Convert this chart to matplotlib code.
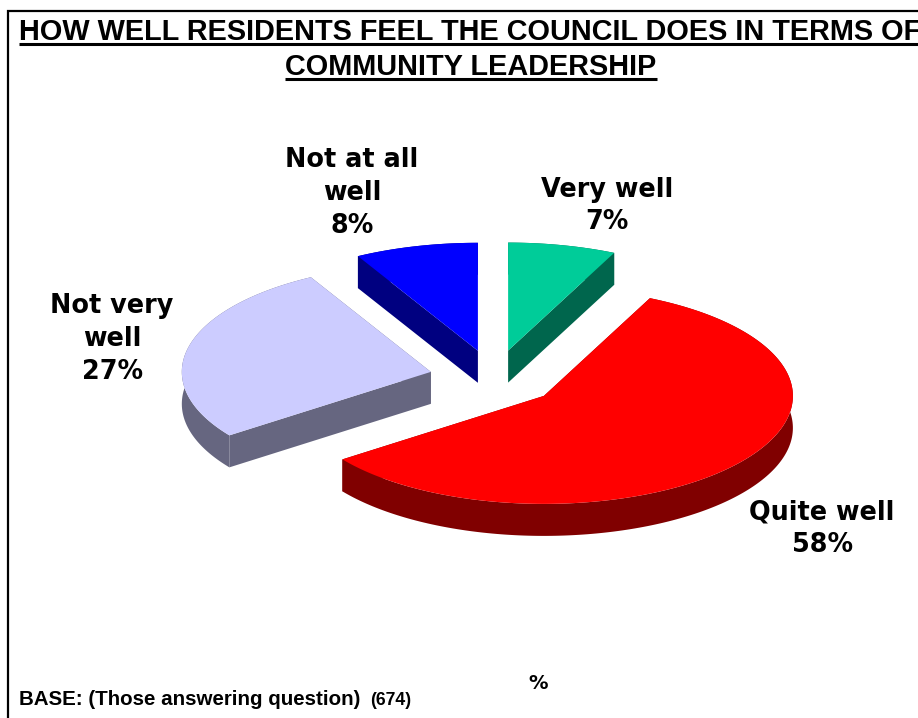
import numpy as np
import matplotlib
matplotlib.use('Agg')
import matplotlib.pyplot as plt

# Survey results
categories = ['Very well', 'Quite well', 'Not very well', 'Not at all well']
label_text = ['Very well', 'Quite well', 'Not very\nwell', 'Not at all\nwell']
values = [7, 58, 27, 8]
top_colors = ['#00CC99', '#FF0000', '#CCCCFF', '#0000FF']
side_colors = ['#00664D', '#800000', '#666680', '#000080']
label_pos = [(607, 206), (822, 529), (112, 339), (352, 193)]

title_lines = ['HOW WELL RESIDENTS FEEL THE COUNCIL DOES IN TERMS OF', 'COMMUNITY LEADERSHIP']

# Pie geometry in pixels
CX, CY = 494, 378
RX, RY = 249, 108
DEPTH = 32
EXPLODE = 0.26

fig = plt.figure(figsize=(9.18, 7.18), dpi=100)
ax = fig.add_axes([0, 0, 1, 1])
ax.set_xlim(0, 918)
ax.set_ylim(718, 0)
ax.axis('off')


def rim(x0, y0, a0, a1):
    t = np.radians(np.linspace(a0, a1, 200))
    return x0 + RX * np.cos(t), y0 - RY * np.sin(t)


# Slices run clockwise from 12 o'clock
start = 90.0
for val, top, side in zip(values, top_colors, side_colors):
    sweep = val / sum(values) * 360
    end = start - sweep
    mid = np.radians((start + end) / 2)
    x0 = CX + EXPLODE * RX * np.cos(mid)
    y0 = CY - EXPLODE * RY * np.sin(mid)
    xs, ys = rim(x0, y0, start, end)

    # side walls first: radial faces and the outer strip
    ax.fill([x0, xs[0], xs[0], x0], [y0, ys[0], ys[0] + DEPTH, y0 + DEPTH], color=side, lw=0)
    ax.fill([x0, xs[-1], xs[-1], x0], [y0, ys[-1], ys[-1] + DEPTH, y0 + DEPTH], color=side, lw=0)
    ax.fill(np.r_[xs, xs[::-1]], np.r_[ys, ys[::-1] + DEPTH], color=side, lw=0)

    ax.fill(np.r_[x0, xs], np.r_[y0, ys], color=top, lw=0)
    start = end

# Slice labels
for lab, val, (lx, ly) in zip(label_text, values, label_pos):
    ax.text(lx, ly, f'{lab}\n{val}%', ha='center', va='center', fontsize=18.4,
            fontweight='bold', family='DejaVu Sans', linespacing=1.34, color='black')

# Title with underlines
fig.canvas.draw()
renderer = fig.canvas.get_renderer()
t1 = ax.text(19, 40, title_lines[0], ha='left', va='baseline', fontsize=20.8,
             fontweight='bold', family='Liberation Sans', clip_on=False)
t2 = ax.text(471, 75, title_lines[1], ha='center', va='baseline', fontsize=20.8,
             fontweight='bold', family='Liberation Sans')
for t, uy in zip((t1, t2), (43.5, 78.5)):
    box = t.get_window_extent(renderer)
    ax.plot([box.x0, box.x1], [uy, uy], color='black', lw=2.2, solid_capstyle='butt')

# Frame along the top and left
ax.plot([8, 8, 918], [718, 11, 11], color='black', lw=1.6, solid_joinstyle='miter')

# Footer
ax.text(19, 705, 'BASE: (Those answering question)', ha='left', va='baseline', fontsize=14.8,
        fontweight='bold', family='Liberation Sans')
ax.text(370, 705, '(674)', ha='left', va='baseline', fontsize=12.7, fontweight='bold', family='Liberation Sans')
ax.text(538, 689, '%', ha='center', va='baseline', fontsize=14, fontweight='bold', family='DejaVu Sans')

fig.savefig('out.png', dpi=100)
